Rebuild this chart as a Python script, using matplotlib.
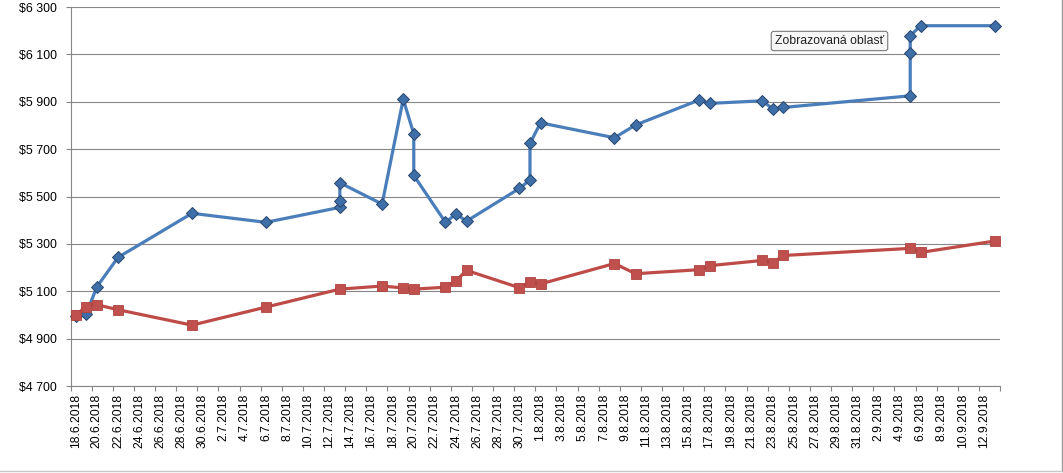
import datetime as dt
import matplotlib
matplotlib.use("Agg")
import matplotlib.pyplot as plt
import matplotlib.dates as mdates
from matplotlib.ticker import FixedLocator, FuncFormatter, NullFormatter
from matplotlib.lines import Line2D

# blue series (diamonds) - several points can share the same day
blue_dates = ["18.6.2018", "19.6.2018", "20.6.2018", "22.6.2018", "29.6.2018", "6.7.2018",
              "13.7.2018", "13.7.2018", "13.7.2018", "17.7.2018", "19.7.2018", "20.7.2018",
              "20.7.2018", "23.7.2018", "24.7.2018", "25.7.2018", "30.7.2018", "31.7.2018",
              "31.7.2018", "1.8.2018", "8.8.2018", "10.8.2018", "16.8.2018", "17.8.2018",
              "22.8.2018", "23.8.2018", "24.8.2018", "5.9.2018", "5.9.2018", "5.9.2018",
              "6.9.2018", "13.9.2018"]
blue_values = [4995, 5005, 5119, 5243, 5429, 5391,
               5454, 5482, 5558, 5468, 5911, 5764,
               5589, 5391, 5426, 5396, 5534, 5570,
               5724, 5811, 5748, 5802, 5907, 5893,
               5904, 5869, 5876, 5925, 6104, 6179,
               6221, 6221]

# red series (squares)
red_dates = ["18.6.2018", "19.6.2018", "20.6.2018", "22.6.2018", "29.6.2018", "6.7.2018",
             "13.7.2018", "17.7.2018", "19.7.2018", "20.7.2018", "23.7.2018", "24.7.2018",
             "25.7.2018", "30.7.2018", "31.7.2018", "1.8.2018", "8.8.2018", "10.8.2018",
             "16.8.2018", "17.8.2018", "22.8.2018", "23.8.2018", "24.8.2018", "5.9.2018",
             "6.9.2018", "13.9.2018"]
red_values = [5000, 5035, 5043, 5022, 4957, 5033,
              5109, 5122, 5114, 5109, 5117, 5144,
              5188, 5115, 5140, 5131, 5217, 5174,
              5191, 5208, 5230, 5221, 5251, 5281,
              5264, 5312]

axis_start = "18.6.2018"
axis_end = "14.9.2018"
y_min, y_max, y_step = 4700, 6300, 200
tooltip_text = "Zobrazovaná oblasť"


def to_num(s):
    d, m, y = (int(p) for p in s.split("."))
    return mdates.date2num(dt.datetime(y, m, d))


def day_label(x, pos):
    d = mdates.num2date(x)
    return f"{d.day}.{d.month}.{d.year}"


def money(v, pos):
    v = int(round(v))
    return f"${v // 1000} {v % 1000:03d}"


plt.rcParams["font.family"] = ["Liberation Sans", "DejaVu Sans"]

W, H = 1063, 473
fig = plt.figure(figsize=(W / 100, H / 100), dpi=100)
ax = fig.add_axes([70.5 / W, 1 - 386 / H, (1000 - 70.5) / W, (386 - 7) / H])

# points sit in the middle of their day, like Excel's date axis
bx = [to_num(s) + 0.5 for s in blue_dates]
rx = [to_num(s) + 0.5 for s in red_dates]

ax.plot(bx, blue_values, color="#4a7ebb", lw=2.3, marker="D", ms=6.5,
        mfc="#3f6fa8", mec="#27466d", mew=0.7, clip_on=False, zorder=3)
ax.plot(rx, red_values, color="#be4b48", lw=2.3, marker="s", ms=7.3,
        mfc="#c0504d", mec="#b0433f", mew=0.6, clip_on=False, zorder=4)

x0, x1 = to_num(axis_start), to_num(axis_end)
ax.set_xlim(x0, x1)
ax.set_ylim(y_min, y_max)

major = [x0 + 2 * k for k in range(int((x1 - x0) // 2) + 1)]
ax.xaxis.set_major_locator(FixedLocator(major))
ax.xaxis.set_major_formatter(NullFormatter())
ax.xaxis.set_minor_locator(FixedLocator([m + 0.5 for m in major if m < x1]))
ax.xaxis.set_minor_formatter(FuncFormatter(day_label))
ax.tick_params(axis="x", which="major", direction="out", length=3.5, width=0.8, color="#868686")
ax.tick_params(axis="x", which="minor", length=0, pad=5.5, labelsize=8.7, labelrotation=90)

ax.yaxis.set_major_locator(FixedLocator(list(range(y_min, y_max + 1, y_step))))
ax.yaxis.set_major_formatter(FuncFormatter(money))
ax.tick_params(axis="y", direction="out", length=3.5, width=0.8, color="#868686",
               pad=6.5, labelsize=8.9)

ax.grid(axis="y", color="#868686", lw=0.8)
ax.set_axisbelow(True)
for side in ("top", "right"):
    ax.spines[side].set_visible(False)
for side in ("left", "bottom"):
    ax.spines[side].set_color("#868686")
    ax.spines[side].set_linewidth(0.8)

# tooltip left in the screenshot
fig.text(829.5 / W, 1 - 41 / H, tooltip_text, ha="center", va="center", fontsize=8.8,
         color="#222222",
         bbox=dict(boxstyle="round,pad=0.3,rounding_size=0.2", fc="#f6f6f6", ec="#7a7a7a", lw=0.8))

# chart frame edges visible in the screenshot
fig.add_artist(Line2D([1061.5 / W, 1061.5 / W], [1 - 471 / H, 1], color="#9a9a9a", lw=1))
fig.add_artist(Line2D([0, 1061.5 / W], [1 - 471 / H, 1 - 471 / H], color="#c8c8c8", lw=1))

fig.savefig("out.png", dpi=100)
